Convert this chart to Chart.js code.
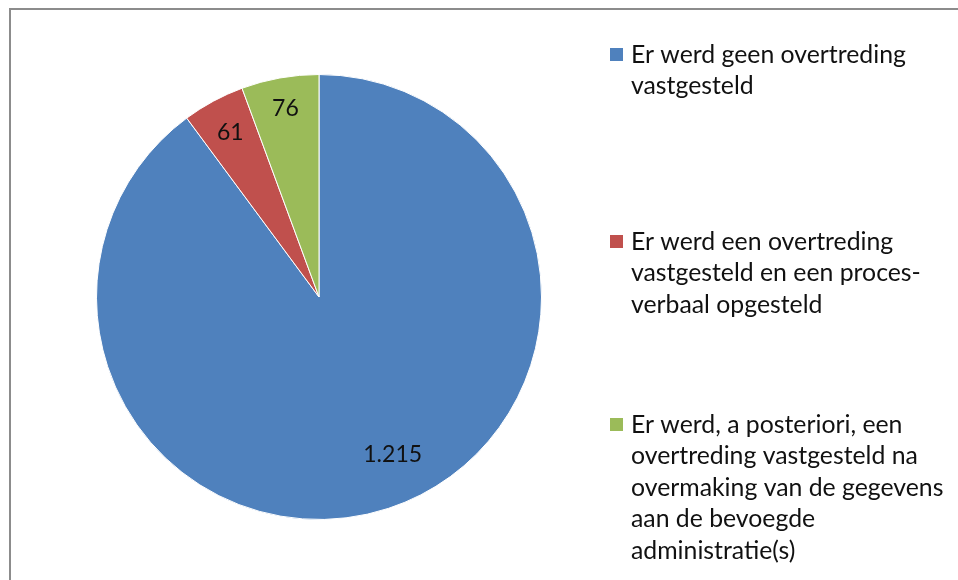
<!DOCTYPE html>
<html>
<head>
<meta charset="utf-8">
<script src="https://cdn.jsdelivr.net/npm/chart.js"></script>
<style>
  html, body { margin: 0; padding: 0; background: #fff; }
  #wrap { position: relative; width: 958px; height: 580px; }
</style>
</head>
<body>
<div id="wrap"><canvas id="pieChart" width="958" height="580"></canvas></div>
<script>
const categories = [
  ['Er werd geen overtreding', 'vastgesteld'],
  ['Er werd een overtreding', 'vastgesteld en een proces-', 'verbaal opgesteld'],
  ['Er werd, a posteriori, een', 'overtreding vastgesteld na', 'overmaking van de gegevens', 'aan de bevoegde', 'administratie(s)']
];
const counts = [1215, 61, 76];
const valueLabels = ['1.215', '61', '76'];
const sliceColors = ['#4F81BD', '#C0504D', '#9BBB59'];

const FONT = 'Lato, "Liberation Sans", sans-serif';

// frame, value labels and the wrapped legend on the right
const decorations = {
  id: 'decorations',
  beforeDraw(chart) {
    const c = chart.ctx;
    c.save();
    c.fillStyle = '#fff';
    c.fillRect(0, 0, chart.width, chart.height);
    c.strokeStyle = '#8c8c8c';
    c.lineWidth = 2;
    c.strokeRect(10, 9, chart.width + 20, chart.height + 20);
    c.restore();
  },
  afterDraw(chart) {
    const c = chart.ctx;
    const arcs = chart.getDatasetMeta(0).data;
    const radial = [0.78, 0.84, 0.86];
    const shift = [-0.12, 0, 0];
    c.save();
    c.font = '23px ' + FONT;
    c.fillStyle = '#111';
    c.textAlign = 'center';
    c.textBaseline = 'middle';
    arcs.forEach((arc, i) => {
      const mid = (arc.startAngle + arc.endAngle) / 2 + shift[i];
      const r = arc.outerRadius * radial[i];
      c.fillText(valueLabels[i], arc.x + Math.cos(mid) * r, arc.y + Math.sin(mid) * r);
    });

    // legend
    const tops = [55, 242, 425];
    const lineH = 31.5;
    c.textAlign = 'left';
    c.font = '24.8px ' + FONT;
    categories.forEach((lines, i) => {
      c.fillStyle = sliceColors[i];
      c.fillRect(610, tops[i] - 7, 13, 13);
      c.fillStyle = '#111';
      lines.forEach((t, j) => c.fillText(t, 631, tops[i] + j * lineH));
    });
    c.restore();
  }
};

new Chart(document.getElementById('pieChart'), {
  type: 'pie',
  data: {
    labels: categories.map(l => l.join(' ')),
    datasets: [{
      data: counts,
      backgroundColor: sliceColors,
      borderColor: '#fff',
      borderWidth: 1
    }]
  },
  options: {
    responsive: false,
    animation: false,
    layout: { padding: { left: 96, right: 416, top: 74, bottom: 60 } },
    plugins: {
      legend: { display: false },
      tooltip: { enabled: false }
    }
  },
  plugins: [decorations]
});
</script>
</body>
</html>
